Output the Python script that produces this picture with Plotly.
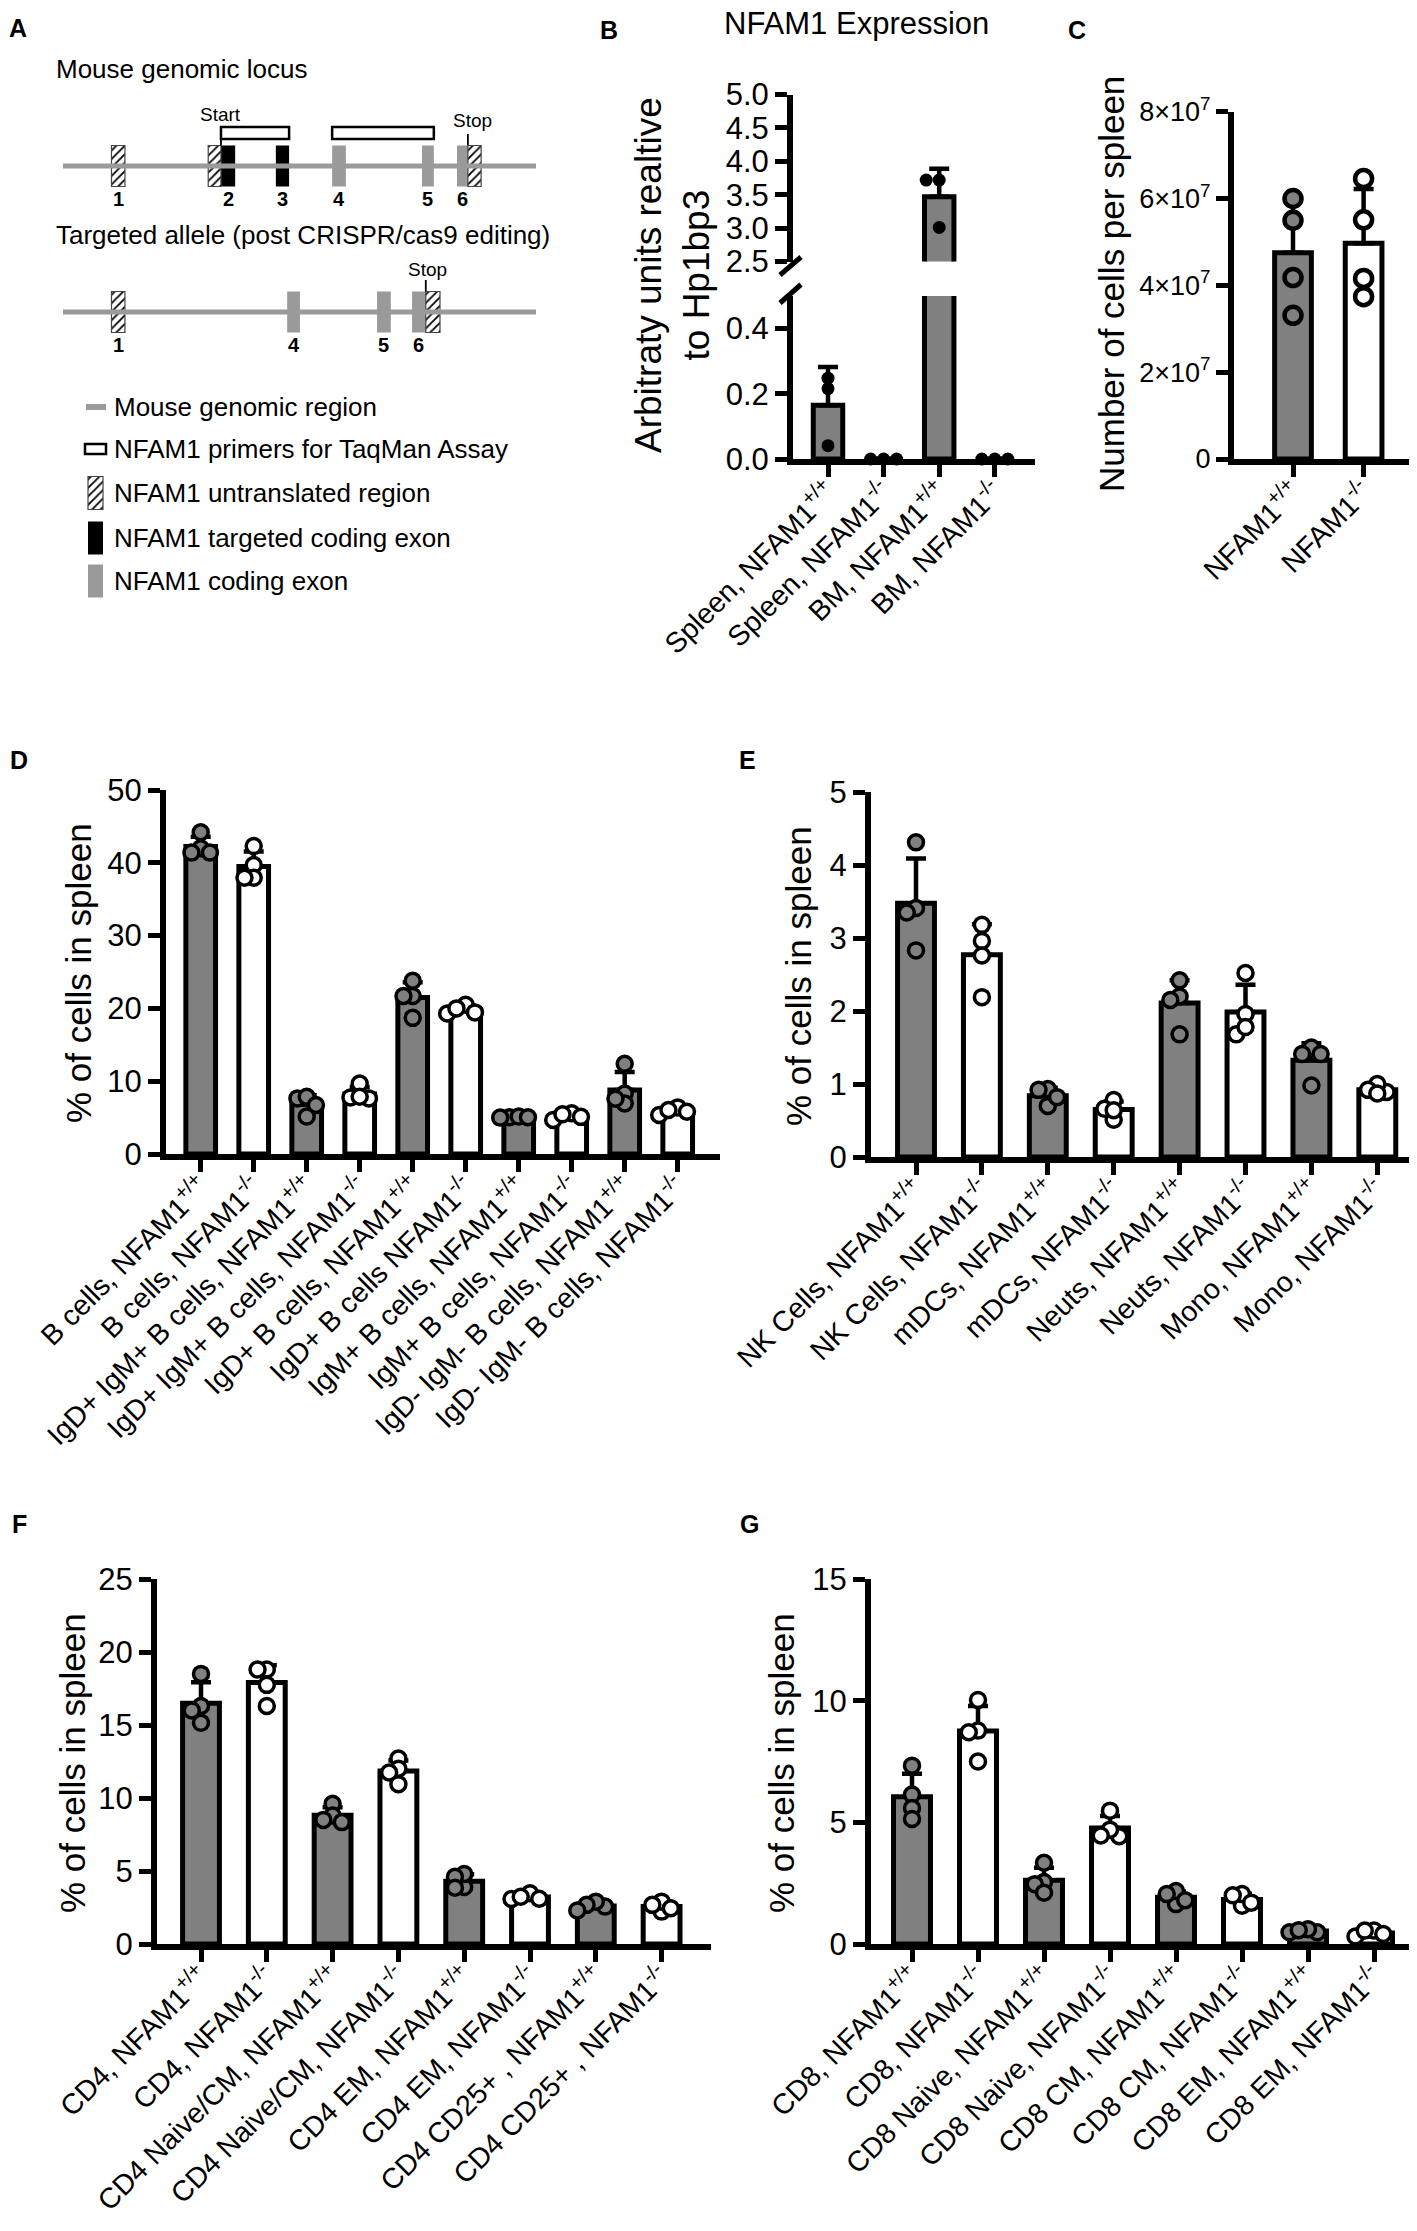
import plotly.graph_objects as go

W, H = 1417, 2231
FONT = "Liberation Sans, Arial, Helvetica, sans-serif"
BAR_GREY = "#808080"
LOCUS_GREY = "#9a9a9a"
AXIS_LW = 6

# ============================ DATA ============================
# Panel A: exon layout along the schematic locus (schematic units 0-100)
wt_segments = [  # (exon, kind, start, end)
    ("1", "utr", 10.25, 13.1),
    ("2", "utr", 30.7, 33.4),
    ("2", "targeted", 33.4, 36.4),
    ("3", "targeted", 45.0, 47.8),
    ("4", "coding", 56.9, 59.8),
    ("5", "coding", 75.9, 78.4),
    ("6", "coding", 83.3, 85.6),
    ("6", "utr", 85.6, 88.4),
]
ko_segments = [
    ("1", "utr", 10.25, 13.1),
    ("4", "coding", 47.4, 50.1),
    ("5", "coding", 66.4, 69.3),
    ("6", "coding", 73.8, 76.7),
    ("6", "utr", 76.7, 79.7),
]
primer_segments = [(33.4, 47.8), (56.9, 78.4)]
wt_start_site = 33.4
wt_stop_site = 85.6
ko_stop_site = 76.7
legend_labels = ["Mouse genomic region", "NFAM1 primers for TaqMan Assay",
                 "NFAM1 untranslated region", "NFAM1 targeted coding exon",
                 "NFAM1 coding exon"]

# Panel B
b_labels = ["Spleen, NFAM1<sup>+/+</sup>", "Spleen, NFAM1<sup>-/-</sup>",
            "BM, NFAM1<sup>+/+</sup>", "BM, NFAM1<sup>-/-</sup>"]
b_points = [[0.248, 0.216, 0.041], [0.0, 0.0, 0.0], [3.72, 3.72, 3.01], [0.0, 0.0, 0.0]]
b_means = [0.165, 0.0, 3.47, 0.0]
b_sd = [0.117, 0.0, 0.42, 0.0]
b_ticks_low = [0.0, 0.2, 0.4]
b_ticks_high = [2.5, 3.0, 3.5, 4.0, 4.5, 5.0]

# Panel C
c_labels = ["NFAM1<sup>+/+</sup>", "NFAM1<sup>-/-</sup>"]
c_points = [[6.0e7, 5.5e7, 4.18e7, 3.31e7], [6.46e7, 5.51e7, 4.16e7, 3.74e7]]
c_means = [4.75e7, 4.97e7]
c_sd = [1.22e7, 1.25e7]
c_tickvals = [0, 2e7, 4e7, 6e7, 8e7]
c_ticktext = ["0", "2×10<sup>7</sup>", "4×10<sup>7</sup>", "6×10<sup>7</sup>", "8×10<sup>7</sup>"]

# Panel D
d_labels = ["B cells, NFAM1<sup>+/+</sup>", "B cells, NFAM1<sup>-/-</sup>",
            "IgD+ IgM+ B cells, NFAM1<sup>+/+</sup>", "IgD+ IgM+ B cells, NFAM1<sup>-/-</sup>",
            "IgD+ B cells, NFAM1<sup>+/+</sup>", "IgD+ B cells NFAM1<sup>-/-</sup>",
            "IgM+ B cells, NFAM1<sup>+/+</sup>", "IgM+ B cells, NFAM1<sup>-/-</sup>",
            "IgD- IgM- B cells, NFAM1<sup>+/+</sup>", "IgD- IgM- B cells, NFAM1<sup>-/-</sup>"]
d_points = [[44.2, 42.0, 41.4, 41.4], [42.3, 39.7, 37.95, 37.95],
            [7.64, 7.86, 6.73, 5.14], [9.68, 7.77, 7.64, 7.86],
            [23.8, 21.7, 21.7, 18.7], [20.5, 19.3, 19.45, 20.0],
            [5.05, 5.14, 5.05, 5.0], [4.68, 5.59, 5.45, 5.1],
            [12.4, 8.3, 6.95, 7.6], [5.36, 6.4, 5.8, 6.05]]
d_means = [42.25, 39.5, 6.84, 8.24, 21.5, 19.8, 5.06, 5.2, 8.8, 5.9]
d_sd = [1.33, 2.06, 1.24, 0.96, 2.1, 0.55, 0.06, 0.41, 2.46, 0.44]
d_ticks = [0, 10, 20, 30, 40, 50]

# Panel E
e_labels = ["NK Cells, NFAM1<sup>+/+</sup>", "NK Cells, NFAM1<sup>-/-</sup>",
            "mDCs, NFAM1<sup>+/+</sup>", "mDCs, NFAM1<sup>-/-</sup>",
            "Neuts, NFAM1<sup>+/+</sup>", "Neuts, NFAM1<sup>-/-</sup>",
            "Mono, NFAM1<sup>+/+</sup>", "Mono, NFAM1<sup>-/-</sup>"]
e_points = [[4.31, 3.41, 3.35, 2.83], [2.96, 3.18, 2.76, 2.19],
            [0.70, 0.93, 0.82, 0.92], [0.78, 0.51, 0.66, 0.64],
            [2.2, 2.42, 2.15, 1.68], [2.52, 1.96, 1.68, 1.78],
            [1.5, 1.41, 1.41, 0.98], [0.89, 1.0, 0.92, 0.87]]
e_means = [3.475, 2.77, 0.84, 0.65, 2.11, 1.985, 1.325, 0.92]
e_sd = [0.615, 0.42, 0.107, 0.11, 0.31, 0.375, 0.234, 0.057]
e_ticks = [0, 1, 2, 3, 4, 5]

# Panel F
f_labels = ["CD4, NFAM1<sup>+/+</sup>", "CD4, NFAM1<sup>-/-</sup>",
            "CD4 Naive/CM, NFAM1<sup>+/+</sup>", "CD4 Naive/CM, NFAM1<sup>-/-</sup>",
            "CD4 EM, NFAM1<sup>+/+</sup>", "CD4 EM, NFAM1<sup>-/-</sup>",
            "CD4 CD25+ , NFAM1<sup>+/+</sup>", "CD4 CD25+ , NFAM1<sup>-/-</sup>"]
f_points = [[18.5, 16.3, 16.0, 15.15], [18.8, 18.8, 17.75, 16.3],
            [9.6, 8.8, 8.35, 8.5], [12.7, 12.0, 11.75, 10.95],
            [3.9, 4.8, 4.6, 3.85], [3.08, 3.47, 3.24, 3.1],
            [2.56, 2.9, 2.68, 2.3], [2.22, 2.9, 2.68, 2.45]]
f_means = [16.49, 17.91, 8.81, 11.85, 4.29, 3.22, 2.61, 2.56]
f_sd = [1.43, 1.18, 0.56, 0.72, 0.48, 0.18, 0.25, 0.29]
f_ticks = [0, 5, 10, 15, 20, 25]

# Panel G
g_labels = ["CD8, NFAM1<sup>+/+</sup>", "CD8, NFAM1<sup>-/-</sup>",
            "CD8 Naive, NFAM1<sup>+/+</sup>", "CD8 Naive, NFAM1<sup>-/-</sup>",
            "CD8 CM, NFAM1<sup>+/+</sup>", "CD8 CM, NFAM1<sup>-/-</sup>",
            "CD8 EM, NFAM1<sup>+/+</sup>", "CD8 EM, NFAM1<sup>-/-</sup>"]
g_points = [[7.33, 6.14, 5.59, 5.14], [10.03, 8.77, 8.7, 7.5],
            [3.34, 2.55, 2.46, 2.11], [5.48, 4.43, 4.7, 4.46],
            [1.64, 2.18, 1.8, 2.05], [1.57, 2.05, 1.7, 2.0],
            [0.48, 0.61, 0.48, 0.57], [0.31, 0.55, 0.41, 0.55]]
g_means = [6.05, 8.75, 2.615, 4.77, 1.92, 1.83, 0.535, 0.455]
g_sd = [0.95, 1.03, 0.52, 0.49, 0.24, 0.23, 0.065, 0.12]
g_ticks = [0, 5, 10, 15]

# ============================ HELPERS ============================
fig = go.Figure()
layout_axes = {}
annotations = []


def px(x, y):
    return x / W, 1 - y / H


def note(text, x, y, size=26, bold=False, xanchor="center", yanchor="middle", angle=0, color="black"):
    xx, yy = px(x, y)
    if bold:
        text = "<b>" + text + "</b>"
    annotations.append(dict(text=text, x=xx, y=yy, xref="paper", yref="paper", showarrow=False,
                            xanchor=xanchor, yanchor=yanchor, textangle=angle, borderpad=0,
                            font=dict(family=FONT, size=size, color=color)))


def swarm(vals, ypu, xpu, d, step=0.5, thr=0.5):
    order = sorted(range(len(vals)), key=lambda k: -vals[k])
    placed = []
    offs = [0.0] * len(vals)
    for k in order:
        yv = vals[k] * ypu
        dx = 0.0
        for m in [0, -1, 1, -2, 2, -3, 3]:
            dx = m * step * d
            if all((dx - p) ** 2 + (yv - q) ** 2 >= (thr * d) ** 2 for p, q in placed):
                break
        placed.append((dx, yv))
        offs[k] = dx / xpu
    return offs


def yax(size=31, **kw):
    d = dict(showline=True, linewidth=AXIS_LW, linecolor="black", ticks="outside", ticklen=12,
             tickwidth=5, tickcolor="black", tickfont=dict(family=FONT, size=size, color="black"),
             showgrid=False, zeroline=False, fixedrange=True, layer="below traces",
             automargin=False)
    d.update(kw)
    return d


def xax(labels, **kw):
    d = dict(showline=True, linewidth=AXIS_LW, linecolor="black", ticks="outside", ticklen=12,
             tickwidth=5, tickcolor="black", tickfont=dict(family=FONT, size=28.5, color="black"),
             tickangle=-45, tickmode="array", tickvals=list(range(len(labels))), ticktext=labels,
             showgrid=False, zeroline=False, fixedrange=True, layer="below traces",
             automargin=False, ticklabelstandoff=-13)
    d.update(kw)
    return d


def add_bars(idx, means, sds, pts, width, ypu, xpu, msize, mline, mcolor=None,
             keep=lambda v: True, step=0.5, thr=0.5):
    n = len(means)
    colors = [BAR_GREY if i % 2 == 0 else "white" for i in range(n)]
    fig.add_trace(go.Bar(
        x=list(range(n)), y=means, width=width, xaxis="x%d" % idx, yaxis="y%d" % idx,
        marker=dict(color=colors, line=dict(color="black", width=5)),
        error_y=dict(type="data", symmetric=False, array=sds, arrayminus=[0] * n,
                     color="black", thickness=4.5, width=10),
        showlegend=False, hoverinfo="skip"))
    xs, ys, cs = [], [], []
    for i, vals in enumerate(pts):
        offs = swarm(vals, ypu, xpu, msize + mline, step, thr)
        for v, o in zip(vals, offs):
            if keep(v):
                xs.append(i + o)
                ys.append(v)
                cs.append(mcolor if mcolor else colors[i])
    fig.add_trace(go.Scatter(
        x=xs, y=ys, mode="markers", xaxis="x%d" % idx, yaxis="y%d" % idx, cliponaxis=False,
        marker=dict(size=msize, color=cs, line=dict(color="black", width=mline)),
        showlegend=False, hoverinfo="skip"))


def frame(axis_x, x_end, cat0, spacing, y_zero, y_top, v_top, v_bottom=0.0, xline=True):
    dx0 = axis_x + AXIS_LW / 2
    ybot = y_zero - (AXIS_LW / 2 if xline else 0)
    xdom = [dx0 / W, x_end / W]
    xr = [(dx0 - cat0) / spacing, (x_end - cat0) / spacing]
    ppu = (ybot - y_top) / (v_top - v_bottom)
    ydom = [1 - ybot / H, 1 - y_top / H]
    return xdom, xr, ydom, [v_bottom, v_top], ppu


# ============================ PANEL A ============================
A_PX0, A_PXU = 55.0, 4.73


def ux(p):
    return (p - A_PX0) / A_PXU


layout_axes["xaxis9"] = dict(domain=[0, 580 / W], range=[ux(0), ux(580)], visible=False,
                             fixedrange=True, anchor="y9", automargin=False)
layout_axes["yaxis9"] = dict(domain=[1 - 620 / H, 1], range=[620, 0], visible=False,
                             fixedrange=True, anchor="x9", automargin=False)

TRACK_Y = [158, 304]
EX_HALF = 20.5
for ty in TRACK_Y:
    fig.add_trace(go.Scatter(x=[0, 100], y=[ty, ty], mode="lines", xaxis="x9", yaxis="y9",
                             line=dict(color=LOCUS_GREY, width=5), showlegend=False, hoverinfo="skip"))

STYLE = {
    "utr": dict(color="white", line=dict(color="#444444", width=1.2),
                pattern=dict(shape="/", fgcolor="black", bgcolor="white", size=6, solidity=0.3,
                             fillmode="replace")),
    "targeted": dict(color="black", line=dict(width=0)),
    "coding": dict(color=LOCUS_GREY, line=dict(width=0)),
}


def draw_exons(segments, ty):
    for kind in ["coding", "targeted", "utr"]:
        segs = [s for s in segments if s[1] == kind]
        if not segs:
            continue
        fig.add_trace(go.Bar(
            x=[(s[2] + s[3]) / 2 for s in segs], width=[s[3] - s[2] for s in segs],
            base=[ty - EX_HALF] * len(segs), y=[2 * EX_HALF] * len(segs),
            xaxis="x9", yaxis="y9", marker=STYLE[kind], showlegend=False, hoverinfo="skip"))
    done = set()
    for ex, kind, s0, s1 in segments:
        if ex in done:
            continue
        cands = [s for s in segments if s[0] == ex and s[1] != "utr"] or [s for s in segments if s[0] == ex]
        c = cands[0]
        xc = A_PX0 + (c[2] + c[3]) / 2 * A_PXU
        note(ex, xc, ty + 33, size=20, bold=True)
        done.add(ex)


draw_exons(wt_segments, TRACK_Y[0])
draw_exons(ko_segments, TRACK_Y[1])

# primer boxes
fig.add_trace(go.Bar(
    x=[(a + b) / 2 for a, b in primer_segments], width=[b - a for a, b in primer_segments],
    base=[119] * len(primer_segments), y=[12] * len(primer_segments), xaxis="x9", yaxis="y9",
    marker=dict(color="white", line=dict(color="black", width=2.5)), showlegend=False, hoverinfo="skip"))
# start / stop markers
for xs_, y0, y1 in [(wt_start_site, 125, 137.5), (wt_stop_site, 126, 137.5), (ko_stop_site, 272, 283.5)]:
    fig.add_trace(go.Scatter(x=[xs_, xs_], y=[y0, y1], mode="lines", xaxis="x9", yaxis="y9",
                             line=dict(color="black", width=1.8), showlegend=False, hoverinfo="skip"))
note("Start", A_PX0 + wt_start_site * A_PXU, 107, size=19)
note("Stop", A_PX0 + wt_stop_site * A_PXU + 5, 113, size=19)
note("Stop", A_PX0 + ko_stop_site * A_PXU + 2, 262, size=19)

note("Mouse genomic locus", 47, 61, size=26, xanchor="left")
note("Targeted allele (post CRISPR/cas9 editing)", 47, 227, size=26, xanchor="left")

# legend of panel A
LEG_Y = [399, 441, 485, 530, 573]
fig.add_trace(go.Scatter(x=[ux(78), ux(98)], y=[LEG_Y[0]] * 2, mode="lines", xaxis="x9", yaxis="y9",
                         line=dict(color=LOCUS_GREY, width=6), showlegend=False, hoverinfo="skip"))
fig.add_trace(go.Bar(x=[ux(87.5)], width=[21 / A_PXU], base=[436], y=[10], xaxis="x9", yaxis="y9",
                     marker=dict(color="white", line=dict(color="black", width=2.5)),
                     showlegend=False, hoverinfo="skip"))
for kind, yc in zip(["utr", "targeted", "coding"], LEG_Y[2:]):
    fig.add_trace(go.Bar(x=[ux(87.5)], width=[15 / A_PXU], base=[yc - 16.5], y=[33], xaxis="x9",
                         yaxis="y9", marker=STYLE[kind], showlegend=False, hoverinfo="skip"))
for lab, yc in zip(legend_labels, LEG_Y):
    note(lab, 105, yc, size=26, xanchor="left")

# ============================ PANEL B ============================
xd, xr, yd_lo, yr_lo, ppu_lo = frame(782, 1027, 820, 55.6, 454, 288, 0.5)
_, _, yd_hi, yr_hi, ppu_hi = frame(782, 1027, 820, 55.6, 253.5, 86.6, 5.0, 2.5, xline=False)
layout_axes["xaxis2"] = xax(b_labels, domain=xd, range=xr, anchor="y2")
layout_axes["yaxis2"] = yax(domain=yd_lo, range=yr_lo, anchor="x2", tickmode="array",
                            tickvals=b_ticks_low, ticktext=["%.1f" % v for v in b_ticks_low])
layout_axes["xaxis3"] = dict(domain=xd, range=xr, anchor="y3", visible=False, fixedrange=True,
                             automargin=False)
layout_axes["yaxis3"] = yax(domain=yd_hi, range=yr_hi, anchor="x3", tickmode="array",
                            tickvals=b_ticks_high, ticktext=["%.1f" % v for v in b_ticks_high])
add_bars(2, b_means, b_sd, b_points, 0.53, ppu_lo, 55.6, 13, 0, mcolor="black",
         keep=lambda v: v <= 0.5, step=1.0, thr=0.75)
add_bars(3, b_means, b_sd, b_points, 0.53, ppu_hi, 55.6, 13, 0, mcolor="black",
         keep=lambda v: v >= 2.5, step=1.0, thr=0.75)
# axis-break marks
shapes = []
for (x0, y0, x1, y1) in [(772, 267, 793, 249), (772, 295, 793, 276.5)]:
    a0, b0 = px(x0, y0)
    a1, b1 = px(x1, y1)
    shapes.append(dict(type="line", xref="paper", yref="paper", x0=a0, y0=b0, x1=a1, y1=b1,
                       line=dict(color="black", width=5)))
note("NFAM1 Expression", 848, 15, size=31)
note("Arbitraty units realtive<br>to Hp1bp3", 665, 267, size=37, angle=-90)

# ============================ PANEL C ============================
xd, xr, yd, yr, ppu = frame(1223, 1405, 1285, 70.6, 454, 103.7, 8e7)
layout_axes["xaxis4"] = xax(c_labels, domain=xd, range=xr, anchor="y4")
layout_axes["yaxis4"] = yax(size=27, domain=yd, range=yr, anchor="x4", tickmode="array",
                            tickvals=c_tickvals, ticktext=c_ticktext)
add_bars(4, c_means, c_sd, c_points, 0.52, ppu, 70.6, 17, 4.5)
note("Number of cells per spleen", 1103, 276, size=35, angle=-90)

# ============================ PANELS D-G ============================
panels = [
    (5, d_labels, d_means, d_sd, d_points, d_ticks, (155, 712, 192.7, 53.0, 1149, 782, 50), (70, 965)),
    (6, e_labels, e_means, e_sd, e_points, e_ticks, (860, 1415, 908, 65.9, 1152, 784, 5), (791, 968)),
    (7, f_labels, f_means, f_sd, f_points, f_ticks, (146, 703, 193, 65.8, 1939, 1571, 25), (64, 1755)),
    (8, g_labels, g_means, g_sd, g_points, g_ticks, (860, 1415, 904, 66.0, 1939, 1571, 15), (773, 1755)),
]
for idx, labels, means, sds, pts, ticks, geo, tpos in panels:
    xd, xr, yd, yr, ppu = frame(*geo)
    layout_axes["xaxis%d" % idx] = xax(labels, domain=xd, range=xr, anchor="y%d" % idx)
    layout_axes["yaxis%d" % idx] = yax(domain=yd, range=yr, anchor="x%d" % idx, tickmode="array",
                                       tickvals=ticks, ticktext=[str(t) for t in ticks])
    add_bars(idx, means, sds, pts, 0.56, ppu, geo[3], 15, 3.5)
    note("% of cells in spleen", tpos[0], tpos[1], size=35, angle=-90)

# panel letters
for letter, x, y in [("A", 10, 20), ("B", 601, 22), ("C", 1069, 22), ("D", 11, 752),
                     ("E", 739, 752), ("F", 11, 1516), ("G", 741, 1516)]:
    note(letter, x, y, size=25, bold=True)

fig.update_layout(
    width=W, height=H, margin=dict(l=0, r=0, t=0, b=0, pad=0, autoexpand=False),
    paper_bgcolor="white", plot_bgcolor="white", barmode="overlay", showlegend=False,
    font=dict(family=FONT, color="black"),
    annotations=annotations, shapes=shapes, **layout_axes)

fig.write_html("out.html")
